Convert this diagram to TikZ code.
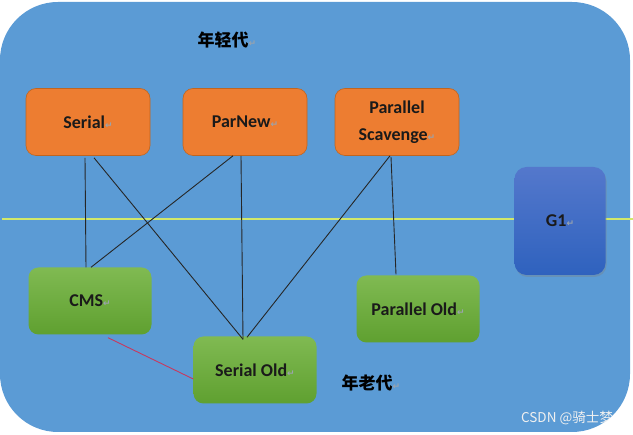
\documentclass[tikz,border=0pt]{standalone}
\usepackage{fontspec}
\setmainfont{Carlito}
\newfontfamily\cjk{Noto Sans CJK SC}
\newfontfamily\dejavu{DejaVu Sans}
\usetikzlibrary{calc,shadows}
\definecolor{bgblue}{HTML}{5B9BD5}
\definecolor{orng}{HTML}{ED7D31}
\definecolor{orngdk}{HTML}{C0651F}
\definecolor{grtop}{HTML}{80BA52}
\definecolor{grbot}{HTML}{5FA030}
\definecolor{gtop}{HTML}{5478CC}
\definecolor{gbot}{HTML}{2F62BE}
\definecolor{yline}{HTML}{D2E86A}
\definecolor{txt}{HTML}{1A1A1A}
\definecolor{markgray}{HTML}{9AA3AD}
\definecolor{redline}{HTML}{C8385E}
\newcommand{\retmark}{{\color{markgray}\dejavu\fontsize{9}{9}\selectfont ↵}}
\tikzset{
  young/.style={draw=orngdk, line width=0.6pt, fill=orng, rounded corners=10pt,
    minimum width=124pt, minimum height=67pt, align=center, text=txt,
    font=\bfseries\fontsize{18}{27}\selectfont},
  old/.style={draw=none, top color=grtop, bottom color=grbot, rounded corners=10pt,
    minimum width=123pt, minimum height=67pt, align=center, text=txt,
    font=\bfseries\fontsize{18}{27}\selectfont},
  gone/.style={draw=none, top color=gtop, bottom color=gbot, rounded corners=12pt,
    minimum width=91pt, minimum height=108pt, text=txt,
    drop shadow={shadow xshift=1pt, shadow yshift=-2pt, opacity=0.35},
    font=\bfseries\fontsize{18}{20}\selectfont},
  link/.style={draw=black!85, line width=0.9pt},
  cmslink/.style={draw=redline, line width=0.9pt},
  gen/.style={text=black, font=\cjk\bfseries\fontsize{17}{20}\selectfont}
}
\begin{document}
\begin{tikzpicture}[x=1pt,y=-1pt]
\useasboundingbox (0,0) rectangle (633,435);
\fill[white] (0,0) rectangle (633,435);
\fill[bgblue, rounded corners=58pt] (0,2) rectangle (630,432);
\draw[yline, line width=1.4pt] (2,219) -- (633,219);

\node[gen] (yg) at (227,40) {年轻代\retmark};
\node[gen] (og) at (371,383) {年老代\retmark};

\node[young] (serial) at (88,122) {Serial\retmark};
\node[young] (parnew) at (245,122) {ParNew\retmark};
\node[young] (ps) at (397,122) {Parallel\\Scavenge\retmark};

\node[gone] (g1) at (560,221) {G1\retmark};

\node[old] (cms) at (90,301) {CMS\retmark};
\node[old] (po) at (418,309) {Parallel Old\retmark};
\node[old] (so) at (255,370) {Serial Old\retmark};

\draw[link] ($(serial.south)+(-3,2)$) -- ($(cms.north)+(-4,0)$);
\draw[link] ($(serial.south)+(6,2)$) -- ($(so.north)+(-12,3)$);
\draw[link] ($(parnew.south)+(-12,0)$) -- ($(cms.north)+(1,0)$);
\draw[link] ($(parnew.south)+(-4,0)$) -- ($(so.north)+(-12,3)$);
\draw[link] ($(ps.south)+(-7,0)$) -- ($(so.north)+(-8,1)$);
\draw[link] ($(ps.south)+(-6,1)$) -- ($(po.north)+(-22,-1)$);
\draw[cmslink] ($(cms.south)+(18,3)$) -- ($(so.west)+(0,9)$);

\node[text=white!88!gray, font=\cjk\fontsize{13.5}{15}\selectfont] (wm) at (567,418) {CSDN @骑士梦};
\end{tikzpicture}
\end{document}
